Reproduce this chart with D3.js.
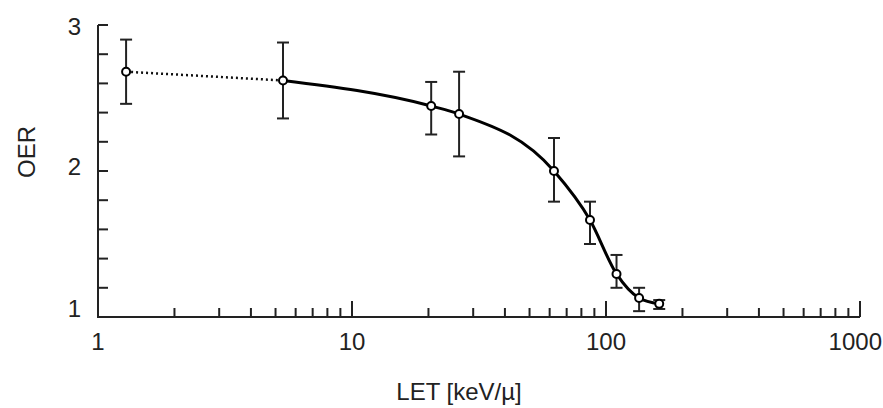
<!DOCTYPE html>
<html>
<head>
<meta charset="utf-8">
<script src="https://cdn.jsdelivr.net/npm/d3@7"></script>
<style>
  body { margin: 0; background: #fff; }
  text { font-family: "Liberation Sans", Arial, sans-serif; fill: #222; }
</style>
</head>
<body>
<div id="chart"></div>
<script>
// values
const letVals = [1.29, 5.35, 20.5, 26.4, 62.4, 86.5, 110, 135, 162];
const oerVals = [2.68, 2.62, 2.445, 2.39, 2.0, 1.664, 1.295, 1.13, 1.09];
const errTop  = [2.90, 2.88, 2.61, 2.68, 2.226, 1.79, 1.425, 1.20, 1.116];
const errBot  = [2.46, 2.36, 2.25, 2.10, 1.79, 1.50, 1.20, 1.04, 1.055];
const xTickLabels = [1, 10, 100, 1000];
const yTickLabels = [1, 2, 3];

const W = 883, H = 408;
const margin = {top: 25, right: 23, bottom: 91, left: 98},
    width = W - margin.left - margin.right,
    height = H - margin.top - margin.bottom;

const svg = d3.select("#chart")
    .append("svg")
    .attr("width", W)
    .attr("height", H)
    .append("g")
    .attr("transform", `translate(${margin.left}, ${margin.top})`);

const x = d3.scaleLog().domain([1, 1000]).range([0, width]);
const y = d3.scaleLinear().domain([1, 3]).range([height, 0]);

const data = letVals.map((v, i) => ({let: v, oer: oerVals[i], hi: errTop[i], lo: errBot[i]}));

// x minor + major ticks (pointing up)
const xTicks = [];
for (let dec = 1; dec <= 100; dec *= 10) {
    for (let k = 1; k <= 10; k++) {
        if (dec * k === 1) continue;
        if (k === 10 && dec < 100) continue;
        xTicks.push(dec * k);
    }
}
svg.selectAll(".xtick")
    .data(xTicks)
    .enter().append("line")
    .attr("class", "xtick")
    .attr("x1", d => x(d)).attr("x2", d => x(d))
    .attr("y1", height)
    .attr("y2", d => height - (xTickLabels.includes(d) ? 16 : 9))
    .style("stroke", "#222").style("stroke-width", 2);

// y ticks every 0.2 (pointing right)
const yTicks = d3.range(1.2, 3.01, 0.2);
svg.selectAll(".ytick")
    .data(yTicks)
    .enter().append("line")
    .attr("class", "ytick")
    .attr("x1", 0).attr("x2", 10)
    .attr("y1", d => y(d)).attr("y2", d => y(d))
    .style("stroke", "#222").style("stroke-width", 2);

// axis lines
svg.append("line")
    .attr("x1", 0).attr("x2", 0).attr("y1", y(3)).attr("y2", height + 1)
    .style("stroke", "#222").style("stroke-width", 2);
svg.append("line")
    .attr("x1", -1).attr("x2", x(1000)).attr("y1", height).attr("y2", height)
    .style("stroke", "#222").style("stroke-width", 2);

// tick labels
svg.selectAll(".xlab")
    .data(xTickLabels)
    .enter().append("text")
    .attr("class", "xlab")
    .attr("x", d => d === 1000 ? W - margin.left - 1 : x(d))
    .attr("y", height + 33)
    .attr("text-anchor", d => d === 1000 ? "end" : "middle")
    .style("font-size", "24px")
    .text(d => d);

const yLabOffset = {1: 0, 2: 4, 3: 10};
svg.selectAll(".ylab")
    .data(yTickLabels)
    .enter().append("text")
    .attr("class", "ylab")
    .attr("x", -17)
    .attr("y", d => y(d) + yLabOffset[d])
    .attr("text-anchor", "end")
    .style("font-size", "24px")
    .text(d => d);

// axis titles
svg.append("text")
    .attr("x", 459 - margin.left)
    .attr("y", 400 - margin.top)
    .attr("text-anchor", "middle")
    .style("font-size", "24px")
    .text("LET [keV/µ]");

svg.append("text")
    .attr("transform", `translate(${35 - margin.left}, ${152 - margin.top}) rotate(-90)`)
    .attr("text-anchor", "middle")
    .style("font-size", "24px")
    .text("OER");

// dotted extension to the first point
const line = d3.line()
    .x(d => x(d.let))
    .y(d => y(d.oer));

svg.append("path")
    .datum(data.slice(0, 2))
    .attr("d", line)
    .style("fill", "none")
    .style("stroke", "#111")
    .style("stroke-width", 2.5)
    .style("stroke-dasharray", "2,3");

// solid fitted curve
svg.append("path")
    .datum(data.slice(1))
    .attr("d", line.curve(d3.curveMonotoneX))
    .style("fill", "none")
    .style("stroke", "#000")
    .style("stroke-width", 3);

// error bars
const eb = svg.selectAll(".err")
    .data(data)
    .enter().append("g")
    .attr("class", "err");
eb.append("line")
    .attr("x1", d => x(d.let)).attr("x2", d => x(d.let))
    .attr("y1", d => y(d.hi)).attr("y2", d => y(d.lo));
eb.append("line")
    .attr("x1", d => x(d.let) - 6).attr("x2", d => x(d.let) + 6)
    .attr("y1", d => y(d.hi)).attr("y2", d => y(d.hi));
eb.append("line")
    .attr("x1", d => x(d.let) - 6).attr("x2", d => x(d.let) + 6)
    .attr("y1", d => y(d.lo)).attr("y2", d => y(d.lo));
eb.selectAll("line")
    .style("stroke", "#222")
    .style("stroke-width", 2);

// open markers
svg.selectAll(".dot")
    .data(data)
    .enter().append("circle")
    .attr("class", "dot")
    .attr("r", 4)
    .attr("cx", d => x(d.let))
    .attr("cy", d => y(d.oer))
    .style("fill", "#fff")
    .style("stroke", "#000")
    .style("stroke-width", 2);
</script>
</body>
</html>
